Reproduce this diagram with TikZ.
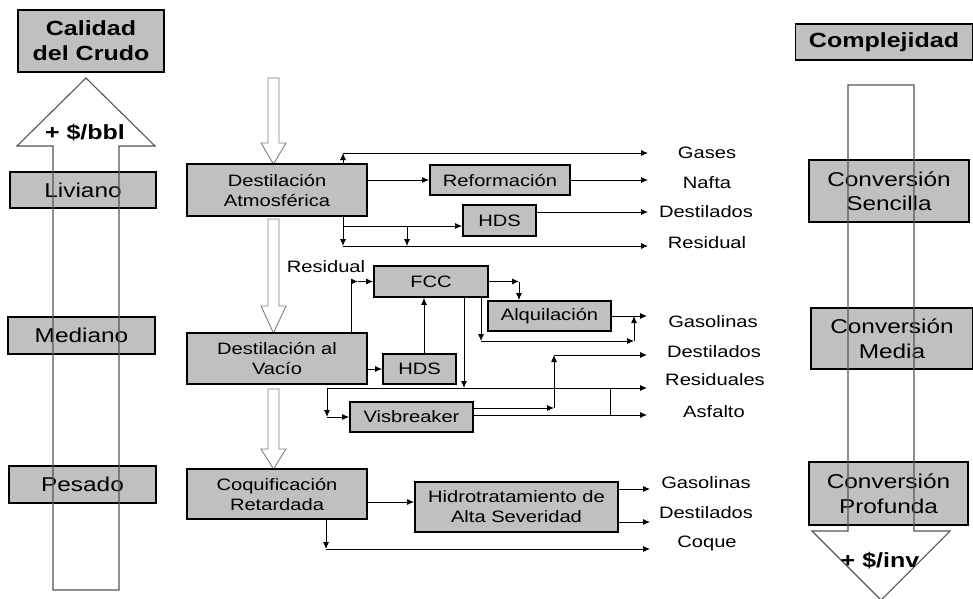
\documentclass[tikz,border=0pt]{standalone}
\usepackage{fontspec}
\usetikzlibrary{arrows.meta}
\newfontfamily\arialx{Liberation Sans}[FakeStretch=1.22]
\newcommand\smallf{\arialx\fontsize{16.5}{20}\selectfont}
\newcommand\bigf{\arialx\fontsize{20}{24.5}\selectfont}
\newcommand\titlef{\arialx\bfseries\fontsize{20.5}{25}\selectfont}
\definecolor{boxgray}{HTML}{C0C0C0}
\definecolor{arrgray}{HTML}{7F7F7F}
\definecolor{bigarrgray}{HTML}{555555}
\tikzset{
  box/.style={draw=black, line width=1.8pt, fill=boxgray, inner sep=0pt, align=center, font=\smallf},
  bigbox/.style={box, font=\bigf},
  titlebox/.style={box, font=\titlef},
  lbl/.style={inner sep=0pt, font=\smallf},
  arr/.style={-{Latex[length=7pt,width=6pt]}, line width=0.9pt},
  hollow/.style={draw=arrgray, fill=white, line width=0.9pt, line join=miter},
  bigarrow/.style={draw=bigarrgray, line width=1.1pt, line join=miter},
}
\begin{document}
\begin{tikzpicture}[x=1pt,y=-1pt]
\useasboundingbox (0,0) rectangle (973,598);
% left column
\node[titlebox, minimum width=146pt, minimum height=62pt] (calidad) at (91,41) {Calidad\\del Crudo};
\node[bigbox, minimum width=146pt, minimum height=36pt] (liviano) at (83,190) {Liviano};
\node[bigbox, minimum width=147pt, minimum height=37pt] (mediano) at (81.5,335.5) {Mediano};
\node[bigbox, minimum width=147pt, minimum height=37pt] (pesado) at (82.5,484.5) {Pesado};
\draw[bigarrow] (53,590) -- (53,146) -- (17,146) -- (86,78) -- (155,146) -- (119,146) -- (119,590) -- cycle;
\node[inner sep=0pt, font=\titlef] (bbl) at (85,133) {+ \$/bbl};
% right column
\node[titlebox, minimum width=177pt, minimum height=36pt] (complejidad) at (884,42) {Complejidad};
\node[bigbox, minimum width=160pt, minimum height=62pt] (sencilla) at (889,191) {Conversión\\Sencilla};
\node[bigbox, minimum width=162pt, minimum height=61pt] (media) at (892,338.5) {Conversión\\Media};
\node[bigbox, minimum width=159pt, minimum height=63pt] (profunda) at (888.5,493.5) {Conversión\\Profunda};
\draw[bigarrow] (848,85) -- (914,85) -- (914,531) -- (950,531) -- (881,600) -- (812,531) -- (848,531) -- cycle;
\node[inner sep=0pt, font=\titlef] (inv) at (880,561) {+ \$/inv};
% hollow arrows in the middle
\draw[hollow] (268,78) -- (279,78) -- (279,143) -- (286,143) -- (273.5,164) -- (261,143) -- (268,143) -- cycle;
\draw[hollow] (268,219) -- (279,219) -- (279,306) -- (286,306) -- (273.5,333) -- (261,306) -- (268,306) -- cycle;
\draw[hollow] (268,389) -- (279,389) -- (279,449) -- (286,449) -- (273.5,469) -- (261,449) -- (268,449) -- cycle;
% process boxes
\node[box, minimum width=180pt, minimum height=52pt] (atm) at (277,190) {Destilación\\Atmosférica};
\node[box, minimum width=140pt, minimum height=30pt] (reform) at (500,180) {Reformación};
\node[box, minimum width=73pt, minimum height=31pt] (hds1) at (499.5,220.5) {HDS};
\node[box, minimum width=114pt, minimum height=31pt] (fcc) at (431,281.5) {FCC};
\node[box, minimum width=123pt, minimum height=30pt] (alq) at (549.5,316) {Alquilación};
\node[box, minimum width=180pt, minimum height=51pt] (vac) at (277,358.5) {Destilación al\\Vacío};
\node[box, minimum width=73pt, minimum height=30pt] (hds2) at (419.5,369) {HDS};
\node[box, minimum width=123pt, minimum height=30pt] (visb) at (411.5,417) {Visbreaker};
\node[box, minimum width=180pt, minimum height=50pt] (coq) at (277,494) {Coquificación\\Retardada};
\node[box, minimum width=203pt, minimum height=50pt] (hidro) at (516.5,507) {Hidrotratamiento de\\Alta Severidad};
% labels
\node[lbl] (lGases) at (707,153) {Gases};
\node[lbl] (lNafta) at (707,183) {Nafta};
\node[lbl] (lDest1) at (706,212) {Destilados};
\node[lbl] (lRes1) at (707,243) {Residual};
\node[lbl] (lResid) at (326,267) {Residual};
\node[lbl] (lGas2) at (713,322) {Gasolinas};
\node[lbl] (lDest2) at (714,352) {Destilados};
\node[lbl] (lRes2) at (715,380) {Residuales};
\node[lbl] (lAsf) at (714,412) {Asfalto};
\node[lbl] (lGas3) at (706,483) {Gasolinas};
\node[lbl] (lDest3) at (706,513) {Destilados};
\node[lbl] (lCoque) at (707,543) {Coque};
% end points
\coordinate (eGases) at (648,153);
\coordinate (eNafta) at (648,180);
\coordinate (eDest1) at (648,212);
\coordinate (eRes1) at (648,246);
\coordinate (eGas2) at (647,316);
\coordinate (eDest2) at (647,355);
\coordinate (eRes2) at (647,388);
\coordinate (eAsf) at (647,415);
\coordinate (eGas3) at (650,489);
\coordinate (eDest3) at (650,522);
\coordinate (eCoque) at (650,549);
% atmospheric distillation outputs
\coordinate (g1) at (343,153);
\draw[arr] (atm.north -| g1) -- (g1);
\draw[arr] (g1) -- (eGases);
\draw[arr] (atm.east |- reform.west) -- (reform.west);
\draw[arr] (reform.east) -- (eNafta);
\coordinate (h1) at (343,226);
\coordinate (h2) at (407,226);
\coordinate (r1) at (343,246);
\draw[arr] (atm.south -| r1) -- (r1);
\draw[arr] (h1) -- (h1 -| hds1.west);
\draw[arr] (h2) -- (h2 |- r1);
\draw[arr] (r1) -- (eRes1);
\draw[arr] (hds1.east |- eDest1) -- (eDest1);
% vacuum distillation
\coordinate (v1) at (351,281.5);
\coordinate (v2) at (358,281.5);
\draw[arr] (vac.north -| v1) -- (v1) -- (v2);
\draw[arr] (v2) -- (fcc.west);
\draw[arr] (vac.east |- hds2.west) -- (hds2.west);
\coordinate (u1) at (424,354);
\draw[arr] (hds2.north -| u1) -- (fcc.south -| u1);
% FCC
\coordinate (a1) at (519,281.5);
\draw[arr] (fcc.east) -- (a1);
\draw[arr] (a1) -- (a1 |- alq.north);
\draw[arr] (alq.east) -- (eGas2);
\coordinate (f2) at (481,341);
\coordinate (f3) at (634,341);
\draw[arr] (fcc.south -| f2) -- (f2);
\draw[arr] (f2) -- (f3);
\draw[arr] (f3) -- (f3 |- eGas2);
\coordinate (f5) at (464,388);
\draw[arr] (fcc.south -| f5) -- (f5);
\coordinate (w1) at (327,388);
\coordinate (w2) at (327,417);
\draw[arr] (w1) -- (eRes2);
\draw[arr] (w1) -- (w2);
\draw[arr] (w2) -- (visb.west);
% visbreaker
\coordinate (s1) at (554,408);
\coordinate (s2) at (554,355);
\draw[arr] (visb.east |- s1) -- (s1);
\draw[arr] (s1) -- (s2);
\draw[arr] (s2) -- (eDest2);
\draw[arr] (visb.east |- eAsf) -- (eAsf);
\coordinate (k1) at (610,388);
\draw[line width=0.9pt] (k1) -- (k1 |- eAsf);
% coker
\coordinate (c1) at (367,502);
\draw[arr] (coq.east |- c1) -- (c1 -| hidro.west);
\draw[arr] (hidro.east |- eGas3) -- (eGas3);
\draw[arr] (hidro.east |- eDest3) -- (eDest3);
\coordinate (q1) at (326,549);
\draw[arr] (coq.south -| q1) -- (q1);
\draw[arr] (q1) -- (eCoque);
\end{tikzpicture}
\end{document}
